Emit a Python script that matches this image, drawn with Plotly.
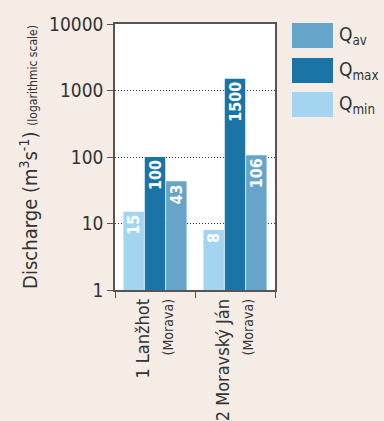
import plotly.graph_objects as go

categories = ["1 Lanžhot<br><span style='font-size:14px'>(Morava)</span>",
              "2 Moravský Ján<br><span style='font-size:14px'>(Morava)</span>"]
q_min = [15, 8]
q_max = [100, 1500]
q_av = [43, 106]
series_names = ["Q<sub>min</sub>", "Q<sub>max</sub>", "Q<sub>av</sub>"]
y_ticks = [1, 10, 100, 1000, 10000]
y_tick_labels = ["1", "10", "100", "1000", "10000"]

col_min = "#a3d5f1"
col_max = "#1a75a6"
col_av = "#67a4c9"
FONT = "DejaVu Sans Condensed, Roboto Condensed, sans-serif"
BG = "#f5ece6"
AX = "#555555"

W, H = 384, 421
L, R, T, B = 115, 109, 24, 131
pw, ph = W - L - R, H - T - B

fig = go.Figure()
for vals, col, name in [(q_min, col_min, series_names[0]),
                        (q_max, col_max, series_names[1]),
                        (q_av, col_av, series_names[2])]:
    fig.add_trace(go.Bar(
        x=categories, y=vals, name=name, marker=dict(color=col, line=dict(width=0)),
        text=[str(v) for v in vals], textposition="inside", insidetextanchor="end",
        textangle=-90, textfont=dict(color="white", size=16, family=FONT, weight="bold"),
        cliponaxis=False, showlegend=False, hoverinfo="skip",
    ))

fig.update_layout(
    width=W, height=H, margin=dict(l=L, r=R, t=T, b=B, autoexpand=False),
    paper_bgcolor=BG, plot_bgcolor="white",
    barmode="group", bargap=0.2, bargroupgap=0.04,
    font=dict(family=FONT, color="#333333"),
    uniformtext=dict(minsize=16, mode="show"),
)
fig.update_xaxes(
    automargin=False,
    tickson="boundaries", ticks="outside", ticklen=6, tickcolor=AX,
    tickangle=-90, tickfont=dict(size=18, family=FONT, color="#333333"),
    showline=True, linecolor=AX, linewidth=1.5, mirror=True, showgrid=False,
)
fig.update_yaxes(
    automargin=False,
    type="log", range=[0, 4], tickvals=y_ticks, ticktext=y_tick_labels,
    ticks="outside", ticklen=6, tickcolor=AX,
    tickfont=dict(size=19, family=FONT, color="#333333"),
    showline=True, linecolor=AX, linewidth=1.5, mirror=True,
    showgrid=True, gridcolor="#333333", griddash="1px,2px", gridwidth=1,
    title=dict(text="Discharge (m<sup>3</sup>s<sup>-1</sup>) <span style='font-size:12px'>(logarithmic scale)</span>",
               font=dict(size=20, family=FONT, color="#333333"), standoff=6),
)

def px_x(p):
    return (p - L) / pw

def px_y(p):
    return (H - B - p) / ph

legend_items = [(series_names[2], col_av, 23), (series_names[1], col_max, 58), (series_names[0], col_min, 92)]
for name, col, ytop in legend_items:
    fig.add_shape(type="rect", xref="paper", yref="paper",
                  x0=px_x(292), x1=px_x(333), y0=px_y(ytop + 25), y1=px_y(ytop),
                  fillcolor=col, line=dict(width=0))
    fig.add_annotation(xref="paper", yref="paper", x=px_x(337), y=px_y(ytop + 12.5),
                       text=name, showarrow=False, xanchor="left", yanchor="middle",
                       font=dict(size=19, family=FONT, color="#333333"))

fig.write_html("out.html", config={"displayModeBar": False},
               post_script="document.body.style.margin='0';document.body.style.background='%s';" % BG)
